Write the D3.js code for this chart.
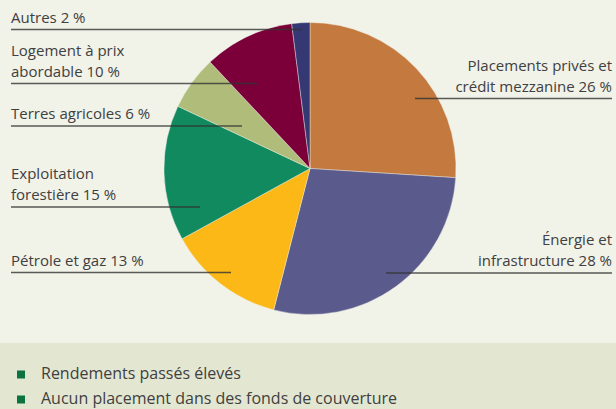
<!DOCTYPE html>
<html>
<head>
<meta charset="utf-8">
<script src="https://cdn.jsdelivr.net/npm/d3@7"></script>
<style>
    html, body { margin: 0; padding: 0; background: #f1f2e8; }
    svg { display: block; }
    text { font-family: "Open Sans", sans-serif; fill: #404040; }
</style>
</head>
<body>
<div id="chart"></div>
<script>
// slice data, clockwise from 12 o'clock
const categories = [
    ['Placements privés et', 'crédit mezzanine 26 %'],
    ['Énergie et', 'infrastructure 28 %'],
    ['Pétrole et gaz 13 %'],
    ['Exploitation', 'forestière 15 %'],
    ['Terres agricoles 6 %'],
    ['Logement à prix', 'abordable 10 %'],
    ['Autres 2 %']
];
const shares = [26, 28, 13, 15, 6, 10, 2];
const sliceColors = ['#c47a3f', '#5a5a8c', '#fbb816', '#108a5e', '#afbc7a', '#7b0039', '#353872'];
const bullets = ['Rendements passés élevés', 'Aucun placement dans des fonds de couverture'];

// label layout: leader line y, inner end x, side of the page
const labelLayout = [
    {y: 98.5, x: 415, side: 'right'},
    {y: 273, x: 386, side: 'right'},
    {y: 272.5, x: 231, side: 'left'},
    {y: 207, x: 200, side: 'left'},
    {y: 126, x: 242, side: 'left'},
    {y: 83.5, x: 258, side: 'left'},
    {y: 29.5, x: 302, side: 'left'}
];

let width = 616,
    height = 409,
    cx = 310,
    cy = 168.5,
    radius = 146,
    leftEdge = 11,
    rightEdge = 612,
    panelTop = 343;

let svg = d3.select('#chart').append('svg')
    .attr('width', width)
    .attr('height', height);

svg.append('rect')
    .attr('width', width)
    .attr('height', height)
    .attr('fill', '#f1f2e8');

// Generate the pie
let pie = d3.pie().sort(null).value((d) => d);
let arc = d3.arc().innerRadius(0).outerRadius(radius);

svg.append('g')
    .attr('transform', `translate(${cx}, ${cy})`)
    .selectAll('path')
    .data(pie(shares))
    .enter()
    .append('path')
    .attr('d', arc)
    .attr('fill', (d, i) => sliceColors[i])
    .attr('stroke', '#f1f2e8')
    .attr('stroke-width', 0.4);

// Generate the labels and leader lines
let labels = svg.append('g')
    .selectAll('g')
    .data(categories)
    .enter()
    .append('g');

labels.append('line')
    .attr('x1', (d, i) => labelLayout[i].side === 'left' ? leftEdge : labelLayout[i].x)
    .attr('x2', (d, i) => labelLayout[i].side === 'left' ? labelLayout[i].x : rightEdge)
    .attr('y1', (d, i) => labelLayout[i].y)
    .attr('y2', (d, i) => labelLayout[i].y)
    .attr('stroke', '#333')
    .attr('stroke-opacity', 0.8)
    .attr('stroke-width', 1.3);

labels.append('text')
    .attr('font-size', 15)
    .attr('text-anchor', (d, i) => labelLayout[i].side === 'left' ? 'start' : 'end')
    .attr('x', (d, i) => labelLayout[i].side === 'left' ? leftEdge : rightEdge)
    .attr('y', (d, i) => labelLayout[i].y - 7 - (d.length - 1) * 21)
    .selectAll('tspan')
    .data((d) => d)
    .enter()
    .append('tspan')
    .attr('x', function () { return this.parentNode.getAttribute('x'); })
    .attr('dy', (d, j) => j === 0 ? 0 : 21)
    .text((d) => d);

// Bottom panel with bullets
svg.append('rect')
    .attr('y', panelTop)
    .attr('width', width)
    .attr('height', height - panelTop)
    .attr('fill', '#e3e7d2');

let items = svg.append('g')
    .selectAll('g')
    .data(bullets)
    .enter()
    .append('g')
    .attr('transform', (d, i) => `translate(0, ${379 + 25 * i})`);

items.append('rect')
    .attr('x', 17)
    .attr('y', -8.5)
    .attr('width', 8)
    .attr('height', 8)
    .attr('fill', '#0b7240');

items.append('text')
    .attr('x', 41)
    .attr('font-size', 16)
    .text((d) => d);
</script>
</body>
</html>
